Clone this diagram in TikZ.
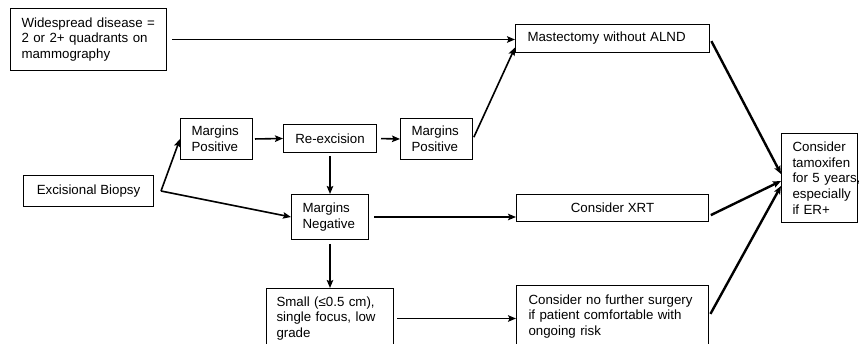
\documentclass[tikz,border=0pt]{standalone}
\usepackage{fontspec}
\setmainfont{Liberation Sans}
\usetikzlibrary{arrows.meta}
\def\lw{1pt}
\tikzset{
    box/.style = {draw, line width=\lw, anchor=north west, inner sep=0pt, font=\fontsize{13.3pt}{15.6pt}\selectfont},
    lbox/.style = {box, align=left, inner xsep=11pt},
    cbox/.style = {box, align=center},
    flow/.style = {->, line width=1.6pt},
    bold flow/.style = {->, line width=2.4pt}
}

\begin{document}
\begin{tikzpicture}[x=1pt, y=-1pt, >={Stealth[length=8pt, width=6.5pt, inset=1.5pt]}]
    \useasboundingbox (0,0) rectangle (859,344);

    % left column
    \node[lbox, text width=134pt, minimum height=62pt] (wide) at (10,8) {Widespread disease =\\2 or 2+ quadrants on\\mammography};
    \node[cbox, minimum width=130pt, minimum height=31pt] (bio) at (23,175) {Excisional Biopsy};

    % margins
    \node[lbox, text width=50pt, minimum height=41pt] (mpos) at (180,118) {Margins\\Positive};
    \node[cbox, minimum width=93pt, minimum height=28pt] (reex) at (283,124) {Re-excision};
    \node[lbox, text width=50pt, minimum height=41pt] (mpos2) at (400,118) {Margins\\Positive};
    \node[lbox, text width=55pt, minimum height=45pt] (mneg) at (291,194) {Margins\\Negative};
    \node[lbox, inner xsep=10pt, text width=107pt, minimum height=60pt] (small) at (266,288) {Small (≤0.5 cm),\\single focus, low\\grade};

    % outcomes
    \node[lbox, inner xsep=12pt, text width=170pt, minimum height=28pt] (mast) at (515,24) {Mastectomy without ALND};
    \node[cbox, minimum width=192pt, minimum height=27pt] (xrt) at (516,194) {Consider XRT};
    \node[lbox, inner xsep=12pt, text width=168pt, minimum height=62pt] (nosurg) at (516,285) {Consider no further surgery\\if patient comfortable with\\ongoing risk};
    \node[lbox, text width=54pt, minimum height=89pt] (tam) at (781,133) {Consider\\tamoxifen\\\mbox{for 5 years,}\\especially\\if ER+};

    % split point after biopsy
    \coordinate (split) at ([xshift=7pt]bio.east);

    % arrows
    \draw[flow, shorten <=5pt] (wide.east) -- (wide.east -| mast.west);
    \draw[flow, shorten <=2pt] (mpos2.east) -- ([yshift=-9pt]mast.west);
    \draw[flow] (split) -- (mpos.west);
    \draw[flow] (split) -- (mneg.west);
    \draw[flow, shorten <=2pt] (mpos.east) -- (reex.west);
    \draw[flow, shorten <=4pt] (reex.east) -- (mpos2.west);
    \draw[flow, shorten <=3pt] (reex.south) -- (mneg.north);
    \draw[flow, shorten <=5pt] (mneg.east) -- (mneg.east -| xrt.west);
    \draw[flow, shorten <=4pt] (mneg.south) -- (small.north);
    \draw[flow, shorten <=3pt] (small.east) -- (small.east -| nosurg.west);

    % towards tamoxifen
    \draw[bold flow, shorten <=3pt] (mast.east) -- ([yshift=4pt]tam.west);
    \draw[bold flow, shorten <=2pt] ([yshift=6pt]xrt.south east) -- ([yshift=-3pt]tam.west);
    \draw[bold flow, shorten <=3pt] (nosurg.east) -- ([yshift=-8pt]tam.west);
\end{tikzpicture}
\end{document}
